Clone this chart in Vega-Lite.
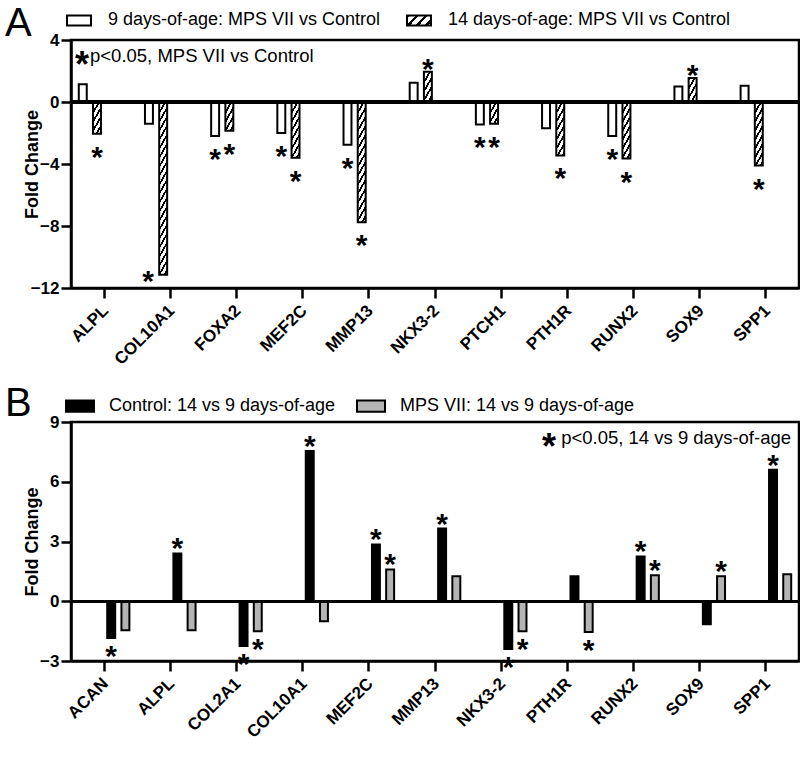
{
  "$schema": "https://vega.github.io/schema/vega-lite/v6.json",
  "padding": {"left": 3, "top": 2, "right": 4, "bottom": 0},
  "background": "white",
  "resolve": {"scale": {"fill": "independent", "stroke": "independent"}, "legend": {"fill": "independent", "stroke": "independent"}},
  "params": [
    {"name": "hs", "value": [
      {"offset": 0, "color": "#000"}, {"offset": 0.0175, "color": "#000"}, {"offset": 0.0175, "color": "#fff"}, {"offset": 0.045, "color": "#fff"},
      {"offset": 0.045, "color": "#000"}, {"offset": 0.0625, "color": "#000"}, {"offset": 0.0625, "color": "#fff"}, {"offset": 0.09, "color": "#fff"},
      {"offset": 0.09, "color": "#000"}, {"offset": 0.1075, "color": "#000"}, {"offset": 0.1075, "color": "#fff"}, {"offset": 0.135, "color": "#fff"},
      {"offset": 0.135, "color": "#000"}, {"offset": 0.1525, "color": "#000"}, {"offset": 0.1525, "color": "#fff"}, {"offset": 0.18, "color": "#fff"},
      {"offset": 0.18, "color": "#000"}, {"offset": 0.1975, "color": "#000"}, {"offset": 0.1975, "color": "#fff"}, {"offset": 0.225, "color": "#fff"},
      {"offset": 0.225, "color": "#000"}, {"offset": 0.2425, "color": "#000"}, {"offset": 0.2425, "color": "#fff"}, {"offset": 0.27, "color": "#fff"},
      {"offset": 0.27, "color": "#000"}, {"offset": 0.2875, "color": "#000"}, {"offset": 0.2875, "color": "#fff"}, {"offset": 0.315, "color": "#fff"},
      {"offset": 0.315, "color": "#000"}, {"offset": 0.3325, "color": "#000"}, {"offset": 0.3325, "color": "#fff"}, {"offset": 0.36, "color": "#fff"},
      {"offset": 0.36, "color": "#000"}, {"offset": 0.3775, "color": "#000"}, {"offset": 0.3775, "color": "#fff"}, {"offset": 0.405, "color": "#fff"},
      {"offset": 0.405, "color": "#000"}, {"offset": 0.4225, "color": "#000"}, {"offset": 0.4225, "color": "#fff"}, {"offset": 0.45, "color": "#fff"},
      {"offset": 0.45, "color": "#000"}, {"offset": 0.4675, "color": "#000"}, {"offset": 0.4675, "color": "#fff"}, {"offset": 0.495, "color": "#fff"},
      {"offset": 0.495, "color": "#000"}, {"offset": 0.5125, "color": "#000"}, {"offset": 0.5125, "color": "#fff"}, {"offset": 0.54, "color": "#fff"},
      {"offset": 0.54, "color": "#000"}, {"offset": 0.5575, "color": "#000"}, {"offset": 0.5575, "color": "#fff"}, {"offset": 0.585, "color": "#fff"},
      {"offset": 0.585, "color": "#000"}, {"offset": 0.6025, "color": "#000"}, {"offset": 0.6025, "color": "#fff"}, {"offset": 0.63, "color": "#fff"},
      {"offset": 0.63, "color": "#000"}, {"offset": 0.6475, "color": "#000"}, {"offset": 0.6475, "color": "#fff"}, {"offset": 0.675, "color": "#fff"},
      {"offset": 0.675, "color": "#000"}, {"offset": 0.6925, "color": "#000"}, {"offset": 0.6925, "color": "#fff"}, {"offset": 0.72, "color": "#fff"},
      {"offset": 0.72, "color": "#000"}, {"offset": 0.7375, "color": "#000"}, {"offset": 0.7375, "color": "#fff"}, {"offset": 0.765, "color": "#fff"},
      {"offset": 0.765, "color": "#000"}, {"offset": 0.7825, "color": "#000"}, {"offset": 0.7825, "color": "#fff"}, {"offset": 0.81, "color": "#fff"},
      {"offset": 0.81, "color": "#000"}, {"offset": 0.8275, "color": "#000"}, {"offset": 0.8275, "color": "#fff"}, {"offset": 0.855, "color": "#fff"},
      {"offset": 0.855, "color": "#000"}, {"offset": 0.8725, "color": "#000"}, {"offset": 0.8725, "color": "#fff"}, {"offset": 0.9, "color": "#fff"},
      {"offset": 0.9, "color": "#000"}, {"offset": 0.9175, "color": "#000"}, {"offset": 0.9175, "color": "#fff"}, {"offset": 0.945, "color": "#fff"},
      {"offset": 0.945, "color": "#000"}, {"offset": 0.9625, "color": "#000"}, {"offset": 0.9625, "color": "#fff"}, {"offset": 0.99, "color": "#fff"},
      {"offset": 0.99, "color": "#000"}, {"offset": 1, "color": "#000"}
    ]}
  ],
  "datasets": {
    "A": [
      {"gene": "ALPL", "series": "9 days-of-age: MPS VII vs Control", "value": 1.15, "sig": false},
      {"gene": "ALPL", "series": "14 days-of-age: MPS VII vs Control", "value": -2.05, "sig": true},
      {"gene": "COL10A1", "series": "9 days-of-age: MPS VII vs Control", "value": -1.4, "sig": false},
      {"gene": "COL10A1", "series": "14 days-of-age: MPS VII vs Control", "value": -11.15, "sig": true},
      {"gene": "FOXA2", "series": "9 days-of-age: MPS VII vs Control", "value": -2.2, "sig": true},
      {"gene": "FOXA2", "series": "14 days-of-age: MPS VII vs Control", "value": -1.85, "sig": true},
      {"gene": "MEF2C", "series": "9 days-of-age: MPS VII vs Control", "value": -2.0, "sig": true},
      {"gene": "MEF2C", "series": "14 days-of-age: MPS VII vs Control", "value": -3.6, "sig": true},
      {"gene": "MMP13", "series": "9 days-of-age: MPS VII vs Control", "value": -2.75, "sig": true},
      {"gene": "MMP13", "series": "14 days-of-age: MPS VII vs Control", "value": -7.75, "sig": true},
      {"gene": "NKX3-2", "series": "9 days-of-age: MPS VII vs Control", "value": 1.25, "sig": false},
      {"gene": "NKX3-2", "series": "14 days-of-age: MPS VII vs Control", "value": 1.95, "sig": true},
      {"gene": "PTCH1", "series": "9 days-of-age: MPS VII vs Control", "value": -1.45, "sig": true},
      {"gene": "PTCH1", "series": "14 days-of-age: MPS VII vs Control", "value": -1.4, "sig": true},
      {"gene": "PTH1R", "series": "9 days-of-age: MPS VII vs Control", "value": -1.7, "sig": false},
      {"gene": "PTH1R", "series": "14 days-of-age: MPS VII vs Control", "value": -3.45, "sig": true},
      {"gene": "RUNX2", "series": "9 days-of-age: MPS VII vs Control", "value": -2.2, "sig": true},
      {"gene": "RUNX2", "series": "14 days-of-age: MPS VII vs Control", "value": -3.65, "sig": true},
      {"gene": "SOX9", "series": "9 days-of-age: MPS VII vs Control", "value": 1.0, "sig": false},
      {"gene": "SOX9", "series": "14 days-of-age: MPS VII vs Control", "value": 1.55, "sig": true},
      {"gene": "SPP1", "series": "9 days-of-age: MPS VII vs Control", "value": 1.05, "sig": false},
      {"gene": "SPP1", "series": "14 days-of-age: MPS VII vs Control", "value": -4.1, "sig": true}
    ],
    "B": [
      {"gene": "ACAN", "series": "Control: 14 vs 9 days-of-age", "value": -1.85, "sig": true},
      {"gene": "ACAN", "series": "MPS VII: 14 vs 9 days-of-age", "value": -1.45, "sig": false},
      {"gene": "ALPL", "series": "Control: 14 vs 9 days-of-age", "value": 2.4, "sig": true},
      {"gene": "ALPL", "series": "MPS VII: 14 vs 9 days-of-age", "value": -1.45, "sig": false},
      {"gene": "COL2A1", "series": "Control: 14 vs 9 days-of-age", "value": -2.25, "sig": true},
      {"gene": "COL2A1", "series": "MPS VII: 14 vs 9 days-of-age", "value": -1.5, "sig": true},
      {"gene": "COL10A1", "series": "Control: 14 vs 9 days-of-age", "value": 7.55, "sig": true},
      {"gene": "COL10A1", "series": "MPS VII: 14 vs 9 days-of-age", "value": -1.0, "sig": false},
      {"gene": "MEF2C", "series": "Control: 14 vs 9 days-of-age", "value": 2.85, "sig": true},
      {"gene": "MEF2C", "series": "MPS VII: 14 vs 9 days-of-age", "value": 1.6, "sig": true},
      {"gene": "MMP13", "series": "Control: 14 vs 9 days-of-age", "value": 3.65, "sig": true},
      {"gene": "MMP13", "series": "MPS VII: 14 vs 9 days-of-age", "value": 1.25, "sig": false},
      {"gene": "NKX3-2", "series": "Control: 14 vs 9 days-of-age", "value": -2.4, "sig": true},
      {"gene": "NKX3-2", "series": "MPS VII: 14 vs 9 days-of-age", "value": -1.5, "sig": true},
      {"gene": "PTH1R", "series": "Control: 14 vs 9 days-of-age", "value": 1.25, "sig": false},
      {"gene": "PTH1R", "series": "MPS VII: 14 vs 9 days-of-age", "value": -1.55, "sig": true},
      {"gene": "RUNX2", "series": "Control: 14 vs 9 days-of-age", "value": 2.25, "sig": true},
      {"gene": "RUNX2", "series": "MPS VII: 14 vs 9 days-of-age", "value": 1.3, "sig": true},
      {"gene": "SOX9", "series": "Control: 14 vs 9 days-of-age", "value": -1.15, "sig": false},
      {"gene": "SOX9", "series": "MPS VII: 14 vs 9 days-of-age", "value": 1.25, "sig": true},
      {"gene": "SPP1", "series": "Control: 14 vs 9 days-of-age", "value": 6.6, "sig": true},
      {"gene": "SPP1", "series": "MPS VII: 14 vs 9 days-of-age", "value": 1.35, "sig": false}
    ]
  },
  "spacing": 13,
  "vconcat": [
    {
      "width": 728,
      "height": 248,
      "title": {"text": "A", "anchor": "start", "frame": "bounds", "fontSize": 40, "fontWeight": "normal", "offset": -37, "dx": -18},
      "data": {"name": "A"},
      "layer": [
        {
          "mark": {"type": "bar", "strokeWidth": 2},
          "encoding": {
            "x": {"field": "gene", "type": "nominal", "sort": null, "scale": {"paddingInner": 0, "paddingOuter": 0},
                  "axis": {"title": null, "labelAngle": -45, "labelAlign": "right", "labelBaseline": "top", "labelPadding": 4, "labelOffset": -4}},
            "xOffset": {"field": "series", "sort": null, "scale": {"domain": ["9 days-of-age: MPS VII vs Control", "14 days-of-age: MPS VII vs Control"], "paddingInner": 0.44, "paddingOuter": 0.548}},
            "y": {"field": "value", "type": "quantitative", "scale": {"domain": [-12, 4], "nice": false},
                  "axis": {"values": [-12, -8, -4, 0, 4], "title": "Fold Change", "minExtent": 24, "maxExtent": 24, "titlePadding": 6}},
            "fill": {"value": {"expr": "(datum.series == '9 days-of-age: MPS VII vs Control' || datum.value == '9 days-of-age: MPS VII vs Control') ? 'white' : {gradient: 'linear', x1: 0, y1: 0, x2: isNumber(datum.value) ? 2800 / (196 + pow(abs(datum.value) * 15.5, 2)) : 7.1, y2: isNumber(datum.value) ? 3100 * abs(datum.value) / (196 + pow(abs(datum.value) * 15.5, 2)) : 2.96, stops: hs}"}},
            "stroke": {"field": "series", "type": "nominal", "sort": null,
                       "scale": {"domain": ["9 days-of-age: MPS VII vs Control", "14 days-of-age: MPS VII vs Control"], "range": ["black", "black"]},
                       "legend": {"title": null, "orient": "none", "legendX": -5, "legendY": -33, "direction": "horizontal",
                                  "symbolType": "M-1,-0.42H1V0.42H-1Z", "symbolSize": 576, "symbolStrokeWidth": 2,
                                  "labelFontSize": 18, "labelLimit": 500, "labelOffset": 16, "columnPadding": 22,
                                  "encode": {"symbols": {"update": {"fill": {"signal": "datum.value == '9 days-of-age: MPS VII vs Control' ? 'white' : {gradient: 'linear', x1: 0, y1: 0, x2: 7.1, y2: 2.96, stops: hs}"}, "stroke": {"value": "black"}}}}}}
          }
        },
        {
          "mark": {"type": "rule", "color": "black", "strokeWidth": 2.5},
          "encoding": {"y": {"datum": 0}}
        },
        {
          "transform": [{"filter": "datum.sig && datum.value < 0 && datum.value > -10"}],
          "mark": {"type": "text", "text": "*", "fontSize": 30, "fontWeight": "bold", "align": "center", "baseline": "alphabetic", "dy": 33},
          "encoding": {
            "x": {"field": "gene", "type": "nominal", "sort": null},
            "xOffset": {"field": "series", "sort": null},
            "y": {"field": "value", "type": "quantitative"}
          }
        },
        {
          "transform": [{"filter": "datum.sig && datum.value > 0"}],
          "mark": {"type": "text", "text": "*", "fontSize": 30, "fontWeight": "bold", "align": "center", "baseline": "alphabetic", "dy": 7},
          "encoding": {
            "x": {"field": "gene", "type": "nominal", "sort": null},
            "xOffset": {"field": "series", "sort": null},
            "y": {"field": "value", "type": "quantitative"}
          }
        },
        {
          "transform": [{"filter": "datum.sig && datum.value <= -10"}],
          "mark": {"type": "text", "text": "*", "fontSize": 30, "fontWeight": "bold", "align": "center", "baseline": "alphabetic", "dx": -15, "dy": 16},
          "encoding": {
            "x": {"field": "gene", "type": "nominal", "sort": null},
            "xOffset": {"field": "series", "sort": null},
            "y": {"field": "value", "type": "quantitative"}
          }
        },
        {
          "data": {"values": [{"note": "*"}]},
          "mark": {"type": "text", "fontSize": 36, "fontWeight": "bold", "align": "center", "baseline": "alphabetic", "dx": 11, "dy": 21},
          "encoding": {"text": {"field": "note"}, "x": {"datum": "ALPL", "bandPosition": 0}, "y": {"datum": 2.95}}
        },
        {
          "data": {"values": [{"note": "p<0.05, MPS VII vs Control"}]},
          "mark": {"type": "text", "fontSize": 18.5, "align": "left", "baseline": "middle", "dx": 19},
          "encoding": {"text": {"field": "note"}, "x": {"datum": "ALPL", "bandPosition": 0}, "y": {"datum": 2.95}}
        }
      ]
    },
    {
      "width": 728,
      "height": 239,
      "title": {"text": "B", "anchor": "start", "frame": "bounds", "fontSize": 40, "fontWeight": "normal", "offset": -33, "dx": -18},
      "data": {"name": "B"},
      "layer": [
        {
          "mark": {"type": "bar", "strokeWidth": 2, "stroke": "black"},
          "encoding": {
            "x": {"field": "gene", "type": "nominal", "sort": null, "scale": {"paddingInner": 0, "paddingOuter": 0},
                  "axis": {"title": null, "labelAngle": -45, "labelAlign": "right", "labelBaseline": "top", "labelPadding": 4, "labelOffset": -4}},
            "xOffset": {"field": "series", "sort": null, "scale": {"domain": ["Control: 14 vs 9 days-of-age", "MPS VII: 14 vs 9 days-of-age"], "paddingInner": 0.44, "paddingOuter": 0.548}},
            "y": {"field": "value", "type": "quantitative", "scale": {"domain": [-3, 9], "nice": false},
                  "axis": {"values": [-3, 0, 3, 6, 9], "title": "Fold Change", "minExtent": 24, "maxExtent": 24, "titlePadding": 6}},
            "fill": {"field": "series", "type": "nominal", "sort": null,
                     "scale": {"domain": ["Control: 14 vs 9 days-of-age", "MPS VII: 14 vs 9 days-of-age"], "range": ["#000000", "#b4b4b4"]},
                     "legend": {"title": null, "orient": "none", "legendX": -6, "legendY": -31, "direction": "horizontal",
                                "symbolType": "M-1,-0.4H1V0.4H-1Z", "symbolSize": 784, "symbolStrokeWidth": 2, "symbolStrokeColor": "black",
                                "labelFontSize": 18, "labelLimit": 500, "labelOffset": 14, "columnPadding": 17,
                                "encode": {"symbols": {"update": {"stroke": {"value": "black"}}}}}}
          }
        },
        {
          "mark": {"type": "rule", "color": "black", "strokeWidth": 2.5},
          "encoding": {"y": {"datum": 0}}
        },
        {
          "transform": [{"filter": "datum.sig && datum.value < 0"}],
          "mark": {"type": "text", "text": "*", "fontSize": 30, "fontWeight": "bold", "align": "center", "baseline": "alphabetic", "dy": 28},
          "encoding": {
            "x": {"field": "gene", "type": "nominal", "sort": null},
            "xOffset": {"field": "series", "sort": null},
            "y": {"field": "value", "type": "quantitative"}
          }
        },
        {
          "transform": [{"filter": "datum.sig && datum.value > 0"}],
          "mark": {"type": "text", "text": "*", "fontSize": 30, "fontWeight": "bold", "align": "center", "baseline": "alphabetic", "dy": 5},
          "encoding": {
            "x": {"field": "gene", "type": "nominal", "sort": null},
            "xOffset": {"field": "series", "sort": null},
            "y": {"field": "value", "type": "quantitative"}
          }
        },
        {
          "data": {"values": [{"note": "*"}]},
          "mark": {"type": "text", "fontSize": 36, "fontWeight": "bold", "align": "center", "baseline": "alphabetic", "dx": -250, "dy": 21},
          "encoding": {"text": {"field": "note"}, "x": {"datum": "SPP1", "bandPosition": 1}, "y": {"datum": 8.2}}
        },
        {
          "data": {"values": [{"note": "p<0.05, 14 vs 9 days-of-age"}]},
          "mark": {"type": "text", "fontSize": 18.5, "align": "right", "baseline": "middle", "dx": -8},
          "encoding": {"text": {"field": "note"}, "x": {"datum": "SPP1", "bandPosition": 1}, "y": {"datum": 8.2}}
        }
      ]
    }
  ],
  "config": {
    "font": "Liberation Sans",
    "view": {"stroke": "black", "strokeWidth": 2.5},
    "axis": {"grid": false, "domainColor": "black", "domainWidth": 2.5, "tickColor": "black", "tickWidth": 2.5, "tickSize": 10,
             "labelColor": "black", "labelFont": "Liberation Sans", "labelFontWeight": "bold", "labelFontSize": 17,
             "titleColor": "black", "titleFont": "Liberation Sans", "titleFontWeight": "bold", "titleFontSize": 18},
    "legend": {"labelColor": "black", "labelFont": "Liberation Sans"},
    "title": {"color": "black", "font": "Liberation Sans"},
    "text": {"color": "black", "font": "Liberation Sans"}
  }
}
